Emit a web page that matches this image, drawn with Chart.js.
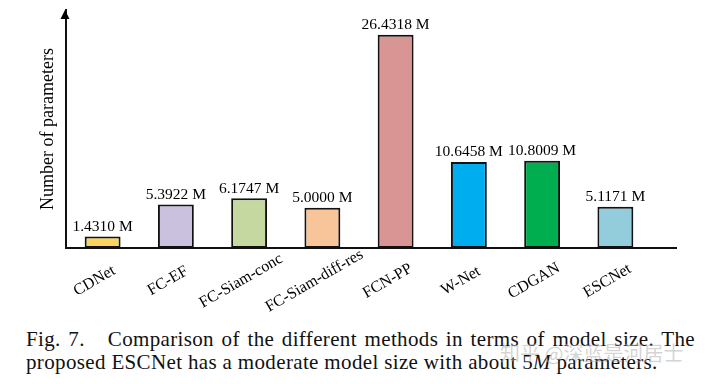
<!DOCTYPE html>
<html>
<head>
<meta charset="utf-8">
<script src="https://cdn.jsdelivr.net/npm/chart.js@4"></script>
<style>
  html, body { margin: 0; padding: 0; background: #fff; }
  #wrap { position: relative; width: 709px; height: 384px; overflow: hidden; }
  #box { position: absolute; left: 0; top: 0; width: 709px; height: 320px; }
  #caption { position: absolute; left: 26px; top: 328px; width: 669px; font-family: "Liberation Serif", "Times New Roman", serif; font-size: 21px; line-height: 23px; color: #111; text-align: justify; letter-spacing: 0.35px; }
  #wm { position: absolute; left: 500px; top: 340px; font-family: "Noto Sans CJK SC", sans-serif; font-size: 20px; line-height: 26px; color: rgba(175,175,175,0.55); white-space: nowrap; }
</style>
</head>
<body>
<div id="wrap">
  <div id="box"><canvas id="c" width="709" height="320"></canvas></div>
  <div id="caption">Fig. 7. &nbsp;&nbsp;Comparison of the different methods in terms of model size. The proposed ESCNet has a moderate model size with about 5<i>M</i> parameters.</div>
  <div id="wm">知乎 @深蓝是河居士</div>
</div>
<script>
const categories = ["CDNet", "FC-EF", "FC-Siam-conc", "FC-Siam-diff-res", "FCN-PP", "W-Net", "CDGAN", "ESCNet"];
const params = [1.4310, 5.3922, 6.1747, 5.0000, 26.4318, 10.6458, 10.8009, 5.1171];
const barColors = ["#F9D45E", "#C9C1DD", "#C4D8A0", "#F8C59B", "#D89593", "#00ADEF", "#00AE4F", "#93CDDB"];
const yAxisTitle = "Number of parameters";
const unit = " M";

const serif = "'Liberation Serif', 'Times New Roman', serif";

const decor = {
  id: 'decor',
  afterDraw(chart) {
    const ctx = chart.ctx;
    const a = chart.chartArea;
    const xs = chart.scales.x, ys = chart.scales.y;
    ctx.save();
    ctx.strokeStyle = '#111';
    ctx.lineWidth = 2;
    ctx.beginPath();
    ctx.moveTo(a.right - 1, ys.getPixelForValue(0));
    ctx.lineTo(a.right + 25, ys.getPixelForValue(0));
    ctx.stroke();
    const ax = ys.right - 1;
    ctx.fillStyle = '#000';
    ctx.beginPath();
    ctx.moveTo(ax, a.top);
    ctx.lineTo(ax - 4.5, a.top + 9);
    ctx.lineTo(ax + 4.5, a.top + 9);
    ctx.closePath();
    ctx.fill();
    // value labels
    ctx.font = "15.5px " + serif;
    ctx.textAlign = 'center';
    ctx.textBaseline = 'bottom';
    const meta = chart.getDatasetMeta(0);
    meta.data.forEach((bar, i) => {
      ctx.fillText(params[i].toFixed(4) + unit, bar.x, bar.y - 2);
    });
    // rotated, centred category labels
    ctx.font = "16px " + serif;
    ctx.textBaseline = 'middle';
    categories.forEach((lab, i) => {
      const x = xs.getPixelForTick(i) - 8;
      const y = a.bottom + 33;
      ctx.save();
      ctx.translate(x, y);
      ctx.rotate(-Math.PI / 6);
      ctx.fillText(lab, 0, 0);
      ctx.restore();
    });
    ctx.restore();
  }
};

new Chart(document.getElementById('c'), {
  type: 'bar',
  data: {
    labels: categories,
    datasets: [{
      data: params,
      backgroundColor: barColors,
      borderColor: '#111',
      borderWidth: 2,
      borderSkipped: false,
      categoryPercentage: 1,
      barPercentage: 0.49
    }]
  },
  options: {
    responsive: false,
    animation: false,
    layout: { padding: { top: 10, right: 57, left: 0, bottom: 0 } },
    plugins: { legend: { display: false }, tooltip: { enabled: false }, title: { display: false } },
    scales: {
      x: {
        grid: { display: false, drawTicks: false },
        border: { display: true, color: '#111', width: 2 },
        ticks: { display: false },
        afterFit(s) { s.height = 72; }
      },
      y: {
        min: 0,
        max: 29.5,
        grid: { display: false, drawTicks: false },
        border: { display: true, color: '#111', width: 2 },
        ticks: { display: false },
        title: { display: true, text: yAxisTitle, color: '#000', font: { family: serif, size: 18 }, padding: { top: 37, bottom: 0 } },
        afterFit(s) { s.width = 66; }
      }
    }
  },
  plugins: [decor]
});
</script>
</body>
</html>
